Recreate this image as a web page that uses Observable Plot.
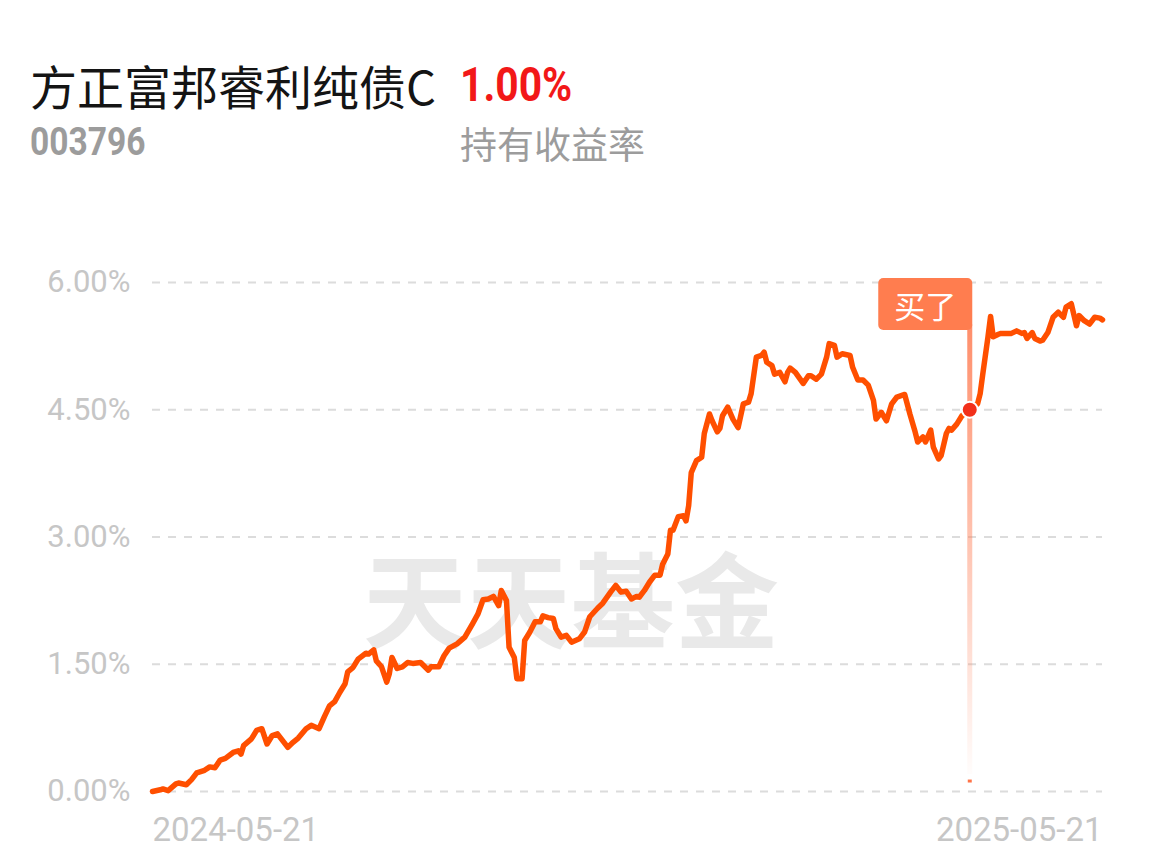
<!DOCTYPE html>
<html>
<head>
<meta charset="utf-8">
<script src="https://cdn.jsdelivr.net/npm/d3@7"></script>
<script src="https://cdn.jsdelivr.net/npm/@observablehq/plot@0.6"></script>
<style>
  html, body { margin: 0; padding: 0; background: #fff; }
  #page { position: relative; width: 1150px; height: 868px; overflow: hidden; background: #fff; }
  .abs { position: absolute; white-space: nowrap; line-height: 1; }
  #title { left: 30px; top: 50px; font: 400 47px "Noto Sans CJK SC", sans-serif; color: #141414; }
  #ret { left: 460px; top: 56px; font: 700 48px Roboto, sans-serif; color: #f21818; transform: scaleX(0.85); transform-origin: left top; }
  #code { left: 30px; top: 119px; font: 700 39px Roboto, sans-serif; color: #9c9c9c; transform: scaleX(0.86); transform-origin: left top; }
  #retlabel { left: 460px; top: 116px; font: 400 37px "Noto Sans CJK SC", sans-serif; color: #9c9c9c; }
  #watermark { left: 363px; top: 520px; font: 700 104px "Noto Sans CJK SC", sans-serif; color: #e9e9e9; }
  #chart { position: absolute; left: 0; top: 230px; }
</style>
</head>
<body>
<div id="page">
  <div id="title" class="abs">方正富邦睿利纯债C</div>
  <div id="ret" class="abs">1.00%</div>
  <div id="code" class="abs">003796</div>
  <div id="retlabel" class="abs">持有收益率</div>
  <div id="watermark" class="abs">天天基金</div>
  <div id="chart"></div>
</div>
<script>
// ---- data ----
const dates = [
  "2024-05-21","2024-05-24","2024-05-25","2024-05-27","2024-05-30","2024-05-31","2024-06-03","2024-06-05","2024-06-07","2024-06-10",
  "2024-06-12","2024-06-14","2024-06-16","2024-06-18","2024-06-21","2024-06-23","2024-06-24","2024-06-25","2024-06-28","2024-06-30",
  "2024-07-02","2024-07-04","2024-07-06","2024-07-08","2024-07-10","2024-07-12","2024-07-14","2024-07-16","2024-07-19","2024-07-21",
  "2024-07-24","2024-07-26","2024-07-28","2024-07-30","2024-08-01","2024-08-03","2024-08-04","2024-08-06","2024-08-08","2024-08-11",
  "2024-08-12","2024-08-14","2024-08-15","2024-08-17","2024-08-19","2024-08-20","2024-08-21","2024-08-23","2024-08-25","2024-08-27",
  "2024-08-29","2024-09-01","2024-09-04","2024-09-05","2024-09-08","2024-09-10","2024-09-12","2024-09-15","2024-09-18","2024-09-21",
  "2024-09-23","2024-09-25","2024-09-27","2024-09-29","2024-10-01","2024-10-02","2024-10-04","2024-10-05","2024-10-07","2024-10-08",
  "2024-10-10","2024-10-11","2024-10-13","2024-10-15","2024-10-17","2024-10-18","2024-10-20","2024-10-22","2024-10-23","2024-10-25",
  "2024-10-27","2024-10-29","2024-11-01","2024-11-03","2024-11-05","2024-11-08","2024-11-10","2024-11-13","2024-11-15","2024-11-17",
  "2024-11-19","2024-11-21","2024-11-23","2024-11-24","2024-11-26","2024-11-28","2024-11-30","2024-12-02","2024-12-03","2024-12-05",
  "2024-12-06","2024-12-07","2024-12-09","2024-12-11","2024-12-12","2024-12-13","2024-12-14","2024-12-16","2024-12-18","2024-12-19",
  "2024-12-21","2024-12-22","2024-12-24","2024-12-25","2024-12-26","2024-12-28","2024-12-30","2025-01-01","2025-01-03","2025-01-05",
  "2025-01-06","2025-01-08","2025-01-10","2025-01-11","2025-01-12","2025-01-14","2025-01-15","2025-01-17","2025-01-19","2025-01-20",
  "2025-01-21","2025-01-23","2025-01-26","2025-01-28","2025-01-29","2025-01-31","2025-02-02","2025-02-04","2025-02-05","2025-02-07",
  "2025-02-08","2025-02-10","2025-02-13","2025-02-14","2025-02-16","2025-02-18","2025-02-20","2025-02-22","2025-02-23","2025-02-25",
  "2025-02-27","2025-03-01","2025-03-03","2025-03-06","2025-03-08","2025-03-10","2025-03-11","2025-03-13","2025-03-14","2025-03-16",
  "2025-03-17","2025-03-19","2025-03-20","2025-03-22","2025-03-23","2025-03-24","2025-03-26","2025-03-28","2025-03-31","2025-04-03",
  "2025-04-04","2025-04-05","2025-04-07","2025-04-08","2025-04-09","2025-04-11","2025-04-12","2025-04-14","2025-04-16","2025-04-18",
  "2025-04-20","2025-04-21","2025-04-22","2025-04-24","2025-04-25","2025-04-27","2025-04-28","2025-04-30","2025-05-02","2025-05-04",
  "2025-05-06","2025-05-07","2025-05-09","2025-05-11","2025-05-12","2025-05-14","2025-05-16","2025-05-18","2025-05-20","2025-05-21"
];
const values = [
  0.00,0.02,0.03,0.01,0.09,0.10,0.08,0.14,0.22,0.25,
  0.29,0.28,0.37,0.39,0.46,0.48,0.44,0.54,0.62,0.72,
  0.74,0.56,0.66,0.68,0.60,0.52,0.58,0.63,0.74,0.78,
  0.74,0.88,1.01,1.06,1.17,1.27,1.41,1.46,1.56,1.63,
  1.62,1.67,1.54,1.47,1.29,1.39,1.58,1.45,1.47,1.52,
  1.51,1.52,1.43,1.47,1.47,1.60,1.69,1.74,1.82,1.98,
  2.09,2.26,2.27,2.30,2.19,2.37,2.25,1.70,1.58,1.33,
  1.33,1.78,1.88,2.00,2.00,2.07,2.05,2.04,1.92,1.82,
  1.84,1.76,1.80,1.88,2.06,2.16,2.22,2.35,2.43,2.35,
  2.36,2.27,2.30,2.29,2.37,2.47,2.55,2.55,2.68,2.80,
  3.08,3.08,3.24,3.25,3.19,3.37,3.76,3.90,3.94,4.22,
  4.45,4.37,4.24,4.28,4.43,4.53,4.39,4.29,4.57,4.59,
  4.69,5.12,5.14,5.18,5.06,5.02,4.92,4.94,4.83,4.94,
  4.99,4.94,4.81,4.90,4.90,4.86,4.92,5.12,5.28,5.26,
  5.12,5.16,5.14,5.00,4.85,4.85,4.79,4.61,4.39,4.47,
  4.37,4.57,4.65,4.68,4.45,4.24,4.12,4.18,4.12,4.26,
  4.06,3.92,3.96,4.22,4.28,4.26,4.33,4.43,4.50,4.57,
  4.69,4.92,5.36,5.60,5.36,5.39,5.40,5.40,5.40,5.43,
  5.40,5.41,5.34,5.41,5.34,5.31,5.32,5.41,5.59,5.65,
  5.59,5.71,5.75,5.49,5.61,5.55,5.51,5.59,5.58,5.56
];
const xTickLabels = ["2024-05-21", "2025-05-21"];
const yTickValues = [0, 1.5, 3, 4.5, 6];
const buyDate = "2025-03-31";
const buyValue = 4.50;
const buyLabel = "买了";

// ---- build ----
const parse = d3.utcParse("%Y-%m-%d");
const data = dates.map((d, i) => ({date: parse(d), value: values[i]}));
const xStart = parse(xTickLabels[0]), xEnd = parse(xTickLabels[1]);
const buy = {date: parse(buyDate), value: buyValue};

const yFont = {fontSize: 31, fontFamily: "Roboto, sans-serif", fill: "#c6c6c6"};
const xFont = {fontSize: 33, fontFamily: "Roboto, sans-serif", fill: "#c6c6c6"};

const plot = Plot.plot({
  width: 1150,
  height: 638,
  marginTop: 52,
  marginBottom: 77,
  marginLeft: 152,
  marginRight: 48,
  style: {background: "transparent", overflow: "visible"},
  x: {type: "utc", domain: [xStart, xEnd]},
  y: {domain: [0, 6]},
  marks: [
    Plot.gridY(yTickValues, {stroke: "#dcdcdc", strokeOpacity: 1, strokeWidth: 2, strokeDasharray: "8,8"}),
    Plot.axisY(yTickValues, {tickSize: 0, tickPadding: 22, tickFormat: d => d.toFixed(2) + "%", ...yFont, label: null}),
    Plot.axisX([xStart], {tickSize: 0, tickPadding: 26, textAnchor: "start", tickFormat: d3.utcFormat("%Y-%m-%d"), ...xFont, label: null}),
    Plot.axisX([xEnd], {tickSize: 0, tickPadding: 26, textAnchor: "end", tickFormat: d3.utcFormat("%Y-%m-%d"), ...xFont, label: null}),
    Plot.ruleX([buy], {x: "date", y1: 0.2, y2: 5.5, stroke: "url(#buyGrad)", strokeWidth: 5}),
    Plot.ruleX([buy], {x: "date", y1: 0.1, y2: 0.135, stroke: "#ff7448", strokeWidth: 4}),
    Plot.lineY(data, {x: "date", y: "value", stroke: "#ff4f00", strokeWidth: 5.5, strokeLinejoin: "round", strokeLinecap: "round"}),
    Plot.dot([buy], {x: "date", y: "value", r: 8, fill: "#f2301a", stroke: "#fff", strokeWidth: 2})
  ]
});

document.getElementById("chart").appendChild(plot);

// gradient for the buy rule + label box, positioned from the plot's scales
const xs = plot.scale("x"), ys = plot.scale("y");
const svg = d3.select(plot);
const defs = svg.insert("defs", ":first-child");
const grad = defs.append("linearGradient")
  .attr("id", "buyGrad")
  .attr("gradientUnits", "userSpaceOnUse")
  .attr("x1", 0).attr("x2", 0)
  .attr("y1", ys.apply(5.5)).attr("y2", ys.apply(0.2));
grad.append("stop").attr("offset", "0%").attr("stop-color", "#ff7a50").attr("stop-opacity", 0.85);
grad.append("stop").attr("offset", "100%").attr("stop-color", "#ff7a50").attr("stop-opacity", 0.02);

const bx = xs.apply(buy.date);
const boxW = 94, boxH = 52;
const boxTop = ys.apply(6) - 4;
const g = svg.append("g").attr("class", "buy-label");
g.append("rect")
  .attr("x", bx + 3 - boxW).attr("y", boxTop)
  .attr("width", boxW).attr("height", boxH)
  .attr("rx", 5).attr("fill", "#ff7d4f");
g.append("text")
  .attr("x", bx + 3 - boxW / 2).attr("y", boxTop + boxH / 2)
  .attr("text-anchor", "middle").attr("dominant-baseline", "central")
  .attr("font-family", "'Noto Sans CJK SC', sans-serif").attr("font-size", 31)
  .attr("fill", "#fff").text(buyLabel);
</script>
</body>
</html>
